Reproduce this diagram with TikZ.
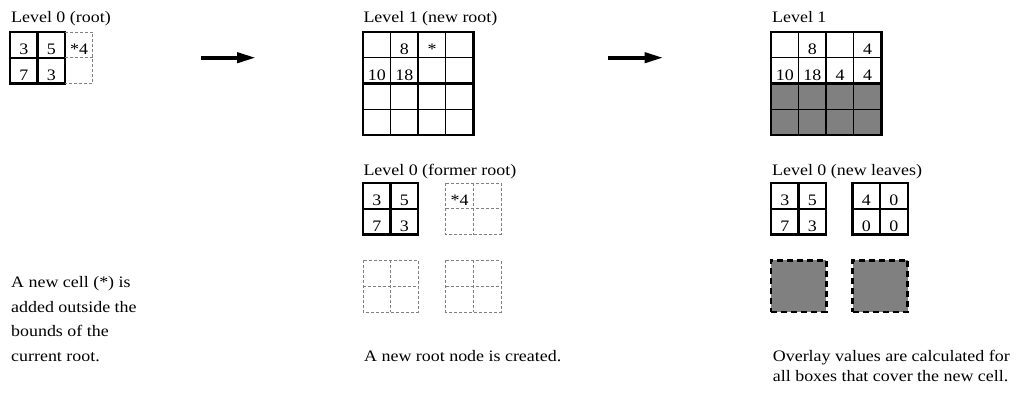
\documentclass[tikz,border=0pt]{standalone}
\usepackage{fontspec}
\setmainfont{Liberation Serif}[FakeStretch=1.12]
\usetikzlibrary{positioning,arrows.meta}
\tikzstyle{cell}=[rectangle,inner sep=0pt,outer sep=0pt,
                  minimum width=27.6pt,minimum height=25.8pt,
                  text height=22.8pt,text depth=3pt]
\tikzstyle{solidcell}=[cell,draw=black,line width=2.4pt]
\tikzstyle{thincell}=[cell,draw=black,line width=0.8pt]
\tikzstyle{shadecell}=[thincell,fill=gray]
\tikzstyle{ghostcell}=[cell]
\tikzstyle{ghostline}=[draw=gray,line width=0.8pt,
                       dash pattern=on 3pt off 2pt]
\tikzstyle{voidbox}=[rectangle,inner sep=0pt,outer sep=0pt,
                     minimum width=55.2pt,minimum height=51.6pt,
                     fill=gray,draw=black,line width=2.6pt,
                     dash pattern=on 6pt off 4pt]
\tikzstyle{quadline}=[draw=black,line width=2.4pt]
\tikzstyle{heading}=[inner sep=0pt,anchor=base west]
\tikzstyle{remark}=[inner sep=0pt,anchor=base west,align=left]
\tikzstyle{bigarrow}=[line width=4pt,-{Triangle[length=19pt,width=10pt]}]

\begin{document}
\begin{tikzpicture}[x=1pt,y=-1pt,font=\fontsize{16}{19}\selectfont]
    \newcommand{\blk}[8]{%
      \node (#1a) at (#2,#3) [#4,anchor=north west]{#5};
      \node (#1b) [#4,right=0pt of #1a]{#6};
      \node (#1c) [#4,below=0pt of #1a]{#7};
      \node (#1d) [#4,right=0pt of #1c]{#8};
    }
    \useasboundingbox (0,0) rectangle (1017,397);

    \node (root0) at (11,22.7) [heading]{Level 0 (root)};
    \blk{r}{10}{32}{solidcell}{3}{5}{7}{3}
    \node (rx1) [ghostcell,right=0pt of rb]{*4};
    \node (rx2) [ghostcell,below=0pt of rx1]{};
    \draw[ghostline] (rb.north east) -- (rx1.north east) -- (rx2.south east)
      -- (rd.south east) (rx1.south west) -- (rx1.south east);
    \node (noteA) at (11,361.7) [remark,font=\fontsize{16}{24.8}\selectfont]
      {A new cell (*) is\\added outside the\\bounds of the\\current root.};

    \coordinate (a1s) at (201,57.7);
    \coordinate (a1e) at (256,57.7);
    \draw[bigarrow] (a1s) -- (a1e);

    \node (root1) at (363.3,22.7) [heading]{Level 1 (new root)};
    \blk{n}{363}{32}{thincell}{}{8}{10}{18}
    \blk{m}{418.2}{32}{thincell}{*}{}{}{}
    \blk{p}{363}{83.6}{thincell}{}{}{}{}
    \blk{q}{418.2}{83.6}{thincell}{}{}{}{}
    \foreach \k in {n,m,p,q}
      \draw[quadline] (\k a.north west) rectangle (\k d.south east);

    \node (former) at (363.3,175.5) [heading]{Level 0 (former root)};
    \blk{f}{363}{183}{solidcell}{3}{5}{7}{3}
    \blk{g}{445.8}{183}{ghostcell}{*4}{}{}{}
    \blk{h}{363}{260.4}{ghostcell}{}{}{}{}
    \blk{k}{445.8}{260.4}{ghostcell}{}{}{}{}
    \foreach \k in {g,h,k}
      \draw[ghostline] (\k a.north west) rectangle (\k d.south east)
        (\k a.north east) -- (\k c.south east)
        (\k a.south west) -- (\k b.south east);
    \node (noteB) at (364,361.7) [remark]{A new root node is created.};

    \coordinate (a2s) at (608,57.7);
    \coordinate (a2e) at (663.5,57.7);
    \draw[bigarrow] (a2s) -- (a2e);

    \node (lvl1) at (772,22.7) [heading]{Level 1};
    \blk{s}{771}{32}{thincell}{}{8}{10}{18}
    \blk{t}{826.2}{32}{thincell}{}{4}{4}{4}
    \blk{u}{771}{83.6}{shadecell}{}{}{}{}
    \blk{v}{826.2}{83.6}{shadecell}{}{}{}{}
    \foreach \k in {s,t,u,v}
      \draw[quadline] (\k a.north west) rectangle (\k d.south east);

    \node (leaves) at (772,175) [heading]{Level 0 (new leaves)};
    \blk{w}{771}{183}{solidcell}{3}{5}{7}{3}
    \blk{z}{852.5}{183}{solidcell}{4}{0}{0}{0}
    \node (gapl) at (771,260.4) [voidbox,anchor=north west]{};
    \node (gapr) at (852.5,260.4) [voidbox,anchor=north west]{};
    \node (noteC) at (772.7,381) [remark,font=\fontsize{16}{20}\selectfont]
      {Overlay values are calculated for\\all boxes that cover the new cell.};
  \end{tikzpicture}
\end{document}
